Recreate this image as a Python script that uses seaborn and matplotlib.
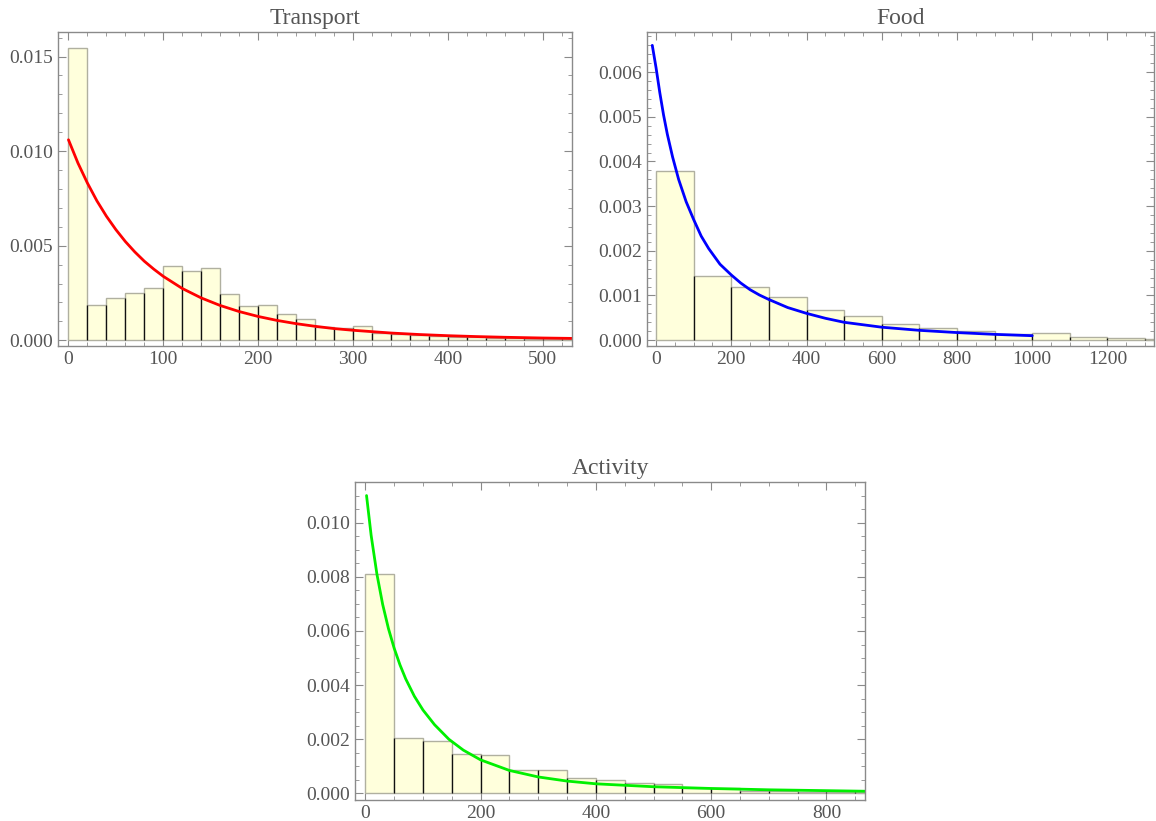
import numpy as np
import pandas as pd
import matplotlib
matplotlib.use("Agg")
import matplotlib.pyplot as plt
import seaborn as sns
from matplotlib.ticker import MultipleLocator, FormatStrFormatter

# histogram heights (density)
transport_bin = 20
transport_density = [0.01544, 0.00186, 0.00222, 0.00248, 0.00275, 0.00392, 0.00368, 0.00380,
                     0.00243, 0.00180, 0.00184, 0.00137, 0.00110, 0.00068, 0.00066, 0.00073,
                     0.00037, 0.00034, 0.00026, 0.00021, 0.00019, 0.00016, 0.00014, 0.00011,
                     0.00009, 0.00007, 0.00007]
food_bin = 100
food_density = [0.00379, 0.00143, 0.00118, 0.00097, 0.00068, 0.00054, 0.00037, 0.00027,
                0.00020, 0.00013, 0.00015, 0.00006, 0.00005, 0.00003]
activity_bin = 50
activity_density = [0.00812, 0.00205, 0.00194, 0.00147, 0.00142, 0.00086, 0.00086, 0.00056,
                    0.00049, 0.00039, 0.00034, 0.00022, 0.00021, 0.00011, 0.00009, 0.00006,
                    0.00005, 0.00004]

# fitted curves, points
transport_curve_x = [0, 10, 20, 30, 40, 50, 60, 70, 80, 90, 100, 120, 140, 160, 180, 200,
                     220, 240, 260, 280, 300, 340, 370, 400, 430, 460, 500, 531]
transport_curve_y = [0.0106, 0.00937, 0.00831, 0.00737, 0.00656, 0.00585, 0.00522, 0.00467,
                     0.00418, 0.00376, 0.00338, 0.00274, 0.00224, 0.00184, 0.00152, 0.00126,
                     0.00105, 0.00088, 0.00074, 0.00062, 0.00053, 0.000385, 0.000305,
                     0.000244, 0.000197, 0.00016, 0.000121, 0.0001]
food_curve_x = [-10, 0, 10, 20, 30, 44, 60, 80, 100, 120, 140, 170, 200, 225, 250, 275, 300,
                350, 400, 450, 500, 600, 700, 800, 900, 1000]
food_curve_y = [0.0066, 0.0061, 0.00554, 0.00504, 0.00461, 0.0041, 0.0036, 0.0031, 0.0027,
                0.00233, 0.00205, 0.0017, 0.00146, 0.00128, 0.00113, 0.00101, 0.00091,
                0.00073, 0.00060, 0.00049, 0.00040, 0.00029, 0.00022, 0.00017, 0.00013,
                0.00010]
activity_curve_x = [2, 10, 20, 30, 40, 50, 60, 70, 85, 100, 120, 145, 170, 200, 250, 300,
                    350, 400, 500, 600, 700, 867]
activity_curve_y = [0.0110, 0.00953, 0.0081, 0.00698, 0.00609, 0.00536, 0.00475, 0.00423,
                    0.00359, 0.00308, 0.00254, 0.0020, 0.0016, 0.00124, 0.00085, 0.00061,
                    0.000458, 0.000357, 0.000249, 0.000185, 0.000136, 0.000083]

sns.set_style("white")
plt.rcParams["font.family"] = ["Liberation Serif", "DejaVu Serif"]

fig = plt.figure(figsize=(11.56, 8.21), dpi=100)

panels = [
    ("Transport", [0.0502, 0.5786, 0.4446, 0.3825], transport_density, transport_bin,
     transport_curve_x, transport_curve_y, "#ff0000", (-11, 531), (-0.0003, 0.0163),
     100, 20, 0.005, 0.001),
    ("Food", [0.5597, 0.5786, 0.4390, 0.3825], food_density, food_bin,
     food_curve_x, food_curve_y, "#0000ff", (-24, 1325), (-0.00013, 0.0069),
     200, 50, 0.001, 0.0002),
    ("Activity", [0.3071, 0.0256, 0.4412, 0.3873], activity_density, activity_bin,
     activity_curve_x, activity_curve_y, "#00f000", (-18, 867), (-0.00024, 0.0115),
     200, 50, 0.002, 0.0005),
]

grey = "#8a8a8a"
for title, rect, dens, width, cx, cy, color, xl, yl, xmaj, xmin, ymaj, ymin in panels:
    ax = fig.add_axes(rect)
    edges = [i * width for i in range(len(dens) + 1)]
    centers = [e + width / 2 for e in edges[:-1]]
    df = pd.DataFrame({"x": centers, "w": dens})
    sns.histplot(data=df, x="x", weights="w", bins=edges, stat="count", ax=ax,
                 color="#ffffdc", alpha=1, edgecolor="#b0b0a0", linewidth=1.0)
    # dark dividers between neighbouring bars, up to the lower of the two
    inner = edges[1:-1]
    low = [min(a, b) for a, b in zip(dens[:-1], dens[1:])]
    ax.vlines(inner, 0, low, color="#111111", linewidth=0.9)
    sns.lineplot(x=cx, y=cy, ax=ax, color=color, linewidth=2.0)
    ax.set_xlim(*xl)
    ax.set_ylim(*yl)
    ax.set_xlabel("")
    ax.set_ylabel("")
    ax.set_title(title, fontsize=17, color="#555555", pad=6)
    ax.xaxis.set_major_locator(MultipleLocator(xmaj))
    ax.xaxis.set_minor_locator(MultipleLocator(xmin))
    ax.yaxis.set_major_locator(MultipleLocator(ymaj))
    ax.yaxis.set_minor_locator(MultipleLocator(ymin))
    ax.yaxis.set_major_formatter(FormatStrFormatter("%.3f"))
    ax.tick_params(which="both", direction="in", top=True, right=True, bottom=True, left=True,
                   color=grey, labelcolor="#555555", labelsize=14)
    ax.tick_params(which="major", length=6, width=0.8)
    ax.tick_params(which="minor", length=3, width=0.6)
    for s in ax.spines.values():
        s.set_color(grey)
        s.set_linewidth(1.0)

fig.savefig("out.png", dpi=100)
